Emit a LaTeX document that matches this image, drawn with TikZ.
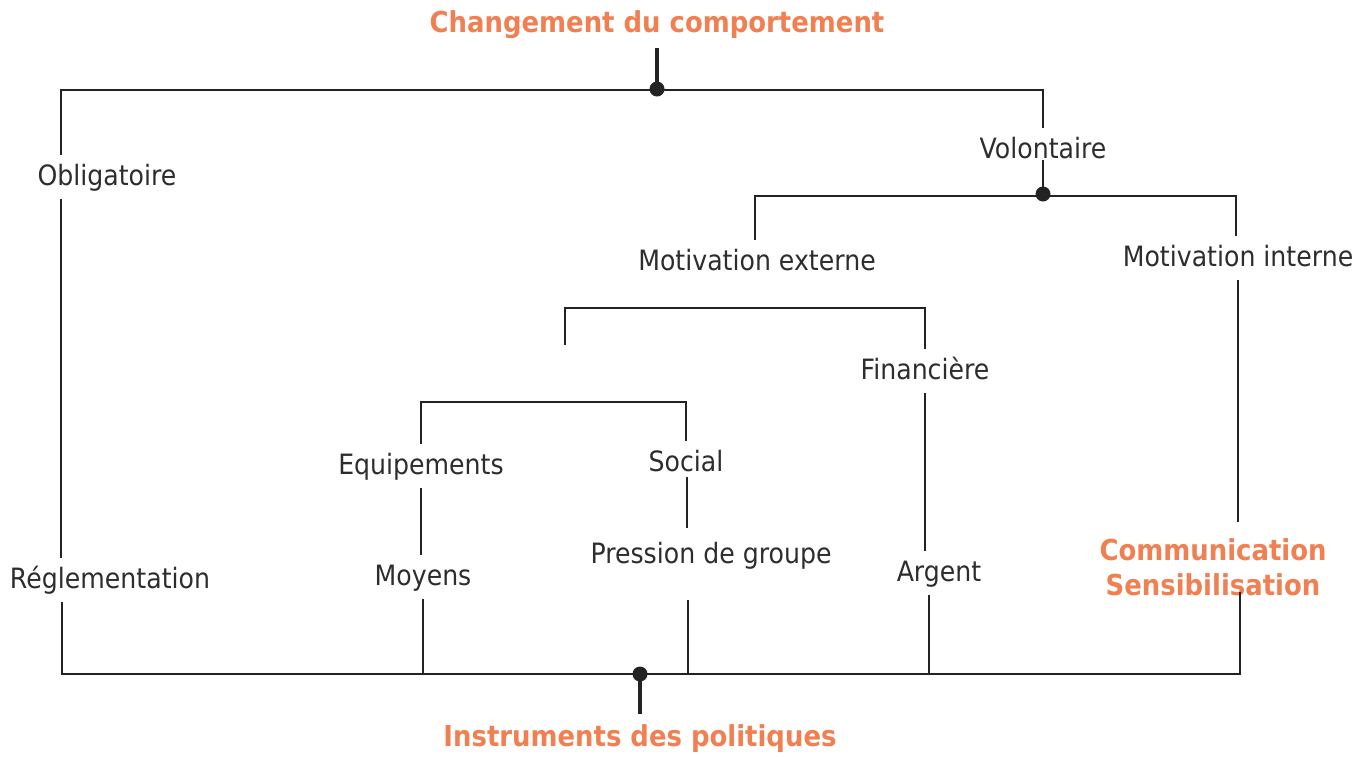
\documentclass[tikz,border=0pt]{standalone}
\usepackage{fontspec}
\setmainfont[FakeStretch=0.9]{DejaVu Sans}
\definecolor{org}{RGB}{240,128,82}
\definecolor{txt}{RGB}{45,45,45}
\definecolor{lnc}{RGB}{35,35,35}
\begin{document}
\begin{tikzpicture}[x=0.5pt,y=-0.5pt,
  lbl/.style={text=txt,font=\fontsize{14}{17}\selectfont,inner xsep=0pt,inner ysep=6pt,text height=0.9em,text depth=0.1em},
  ttl/.style={text=org,font=\fontsize{14.4}{17.5}\selectfont\bfseries,inner xsep=0pt,inner ysep=7pt,align=center},
  ln/.style={draw=lnc,line width=1pt},
  stub/.style={draw=lnc,line width=2.2pt},
  dot/.style={circle,fill=lnc,inner sep=0pt,minimum size=7.5pt}]
\useasboundingbox (0,0) rectangle (1359,756);
% titles
\node[ttl,text height=0.9em,text depth=0.1em] (t1) at (657,24) {Changement du comportement};
\node[ttl,text height=0.9em,text depth=0.1em] (t2) at (640,738) {Instruments des politiques};
% labels
\node[lbl] (obl) at (107,177) {Obligatoire};
\node[lbl] (regl) at (110,580) {Réglementation};
\node[lbl] (vol) at (1043,150) {Volontaire};
\node[lbl] (mext) at (757,262) {Motivation externe};
\node[lbl] (mint) at (1238,258) {Motivation interne};
\node[lbl] (fin) at (925,371) {Financière};
\node[lbl] (arg) at (939,573) {Argent};
\node[lbl] (eq) at (421,466) {Equipements};
\node[lbl] (soc) at (686,463) {Social};
\node[lbl] (moy) at (423,577) {Moyens};
\node[lbl] (pres) at (711,555) {Pression de groupe};
\node[ttl,inner ysep=0pt] (comm) at (1213,567) {Communication\\Sensibilisation};
% junction coordinates
\coordinate (tl) at (61,90);
\coordinate (tr) at (1043,90);
\coordinate (tdot) at (657,89);
\coordinate (bl) at (62,674);
\coordinate (br) at (1240,674);
\coordinate (bdot) at (640,674);
\coordinate (vdot) at (1043,194);
\coordinate (volb) at (1043,160);
\coordinate (vl) at (755,196);
\coordinate (vr) at (1236,196);
\coordinate (fl) at (565,308);
\coordinate (fle) at (565,345);
\coordinate (fr) at (925,308);
\coordinate (sl) at (421,402);
\coordinate (sr) at (686,402);
\coordinate (soca) at (687,477);
\coordinate (socb) at (687,528);
\coordinate (presb) at (688,600);
\coordinate (commt) at (1238,522);
\coordinate (commb) at (1240,592);
% top tree
\draw[ln] (obl.north -| tl) -- (tl) -- (tr) -- (vol.north);
\draw[ln] (obl.south -| tl) -- (regl.north -| tl);
\draw[ln] (regl.south -| bl) -- (bl) -- (br) -- (commb);
\draw[stub] (t1.south) -- (tdot);
\node[dot] at (tdot) {};
% volontaire branch
\draw[ln] (volb) -- (vdot);
\draw[ln] (mext.north -| vl) -- (vl) -- (vr) -- (mint.north -| vr);
\node[dot] at (vdot) {};
\draw[ln] (mint.south -| commt) -- (commt);
% motivation externe
\draw[ln] (fle) -- (fl) -- (fr) -- (fin.north);
\draw[ln] (fin.south) -- (fin.south |- arg.north);
\draw[ln] (arg.south -| 929,0) -- (929,674);
% equipements / social
\draw[ln] (eq.north) -- (sl) -- (sr) -- (soc.north);
\draw[ln] (eq.south) -- (eq.south |- moy.north);
\draw[ln] (moy.south -| 423,0) -- (423,674);
\draw[ln] (soca) -- (socb);
\draw[ln] (presb) -- (presb |- bdot);
% bottom
\draw[stub] (bdot) -- (t2.north);
\node[dot] at (bdot) {};
\end{tikzpicture}
\end{document}
